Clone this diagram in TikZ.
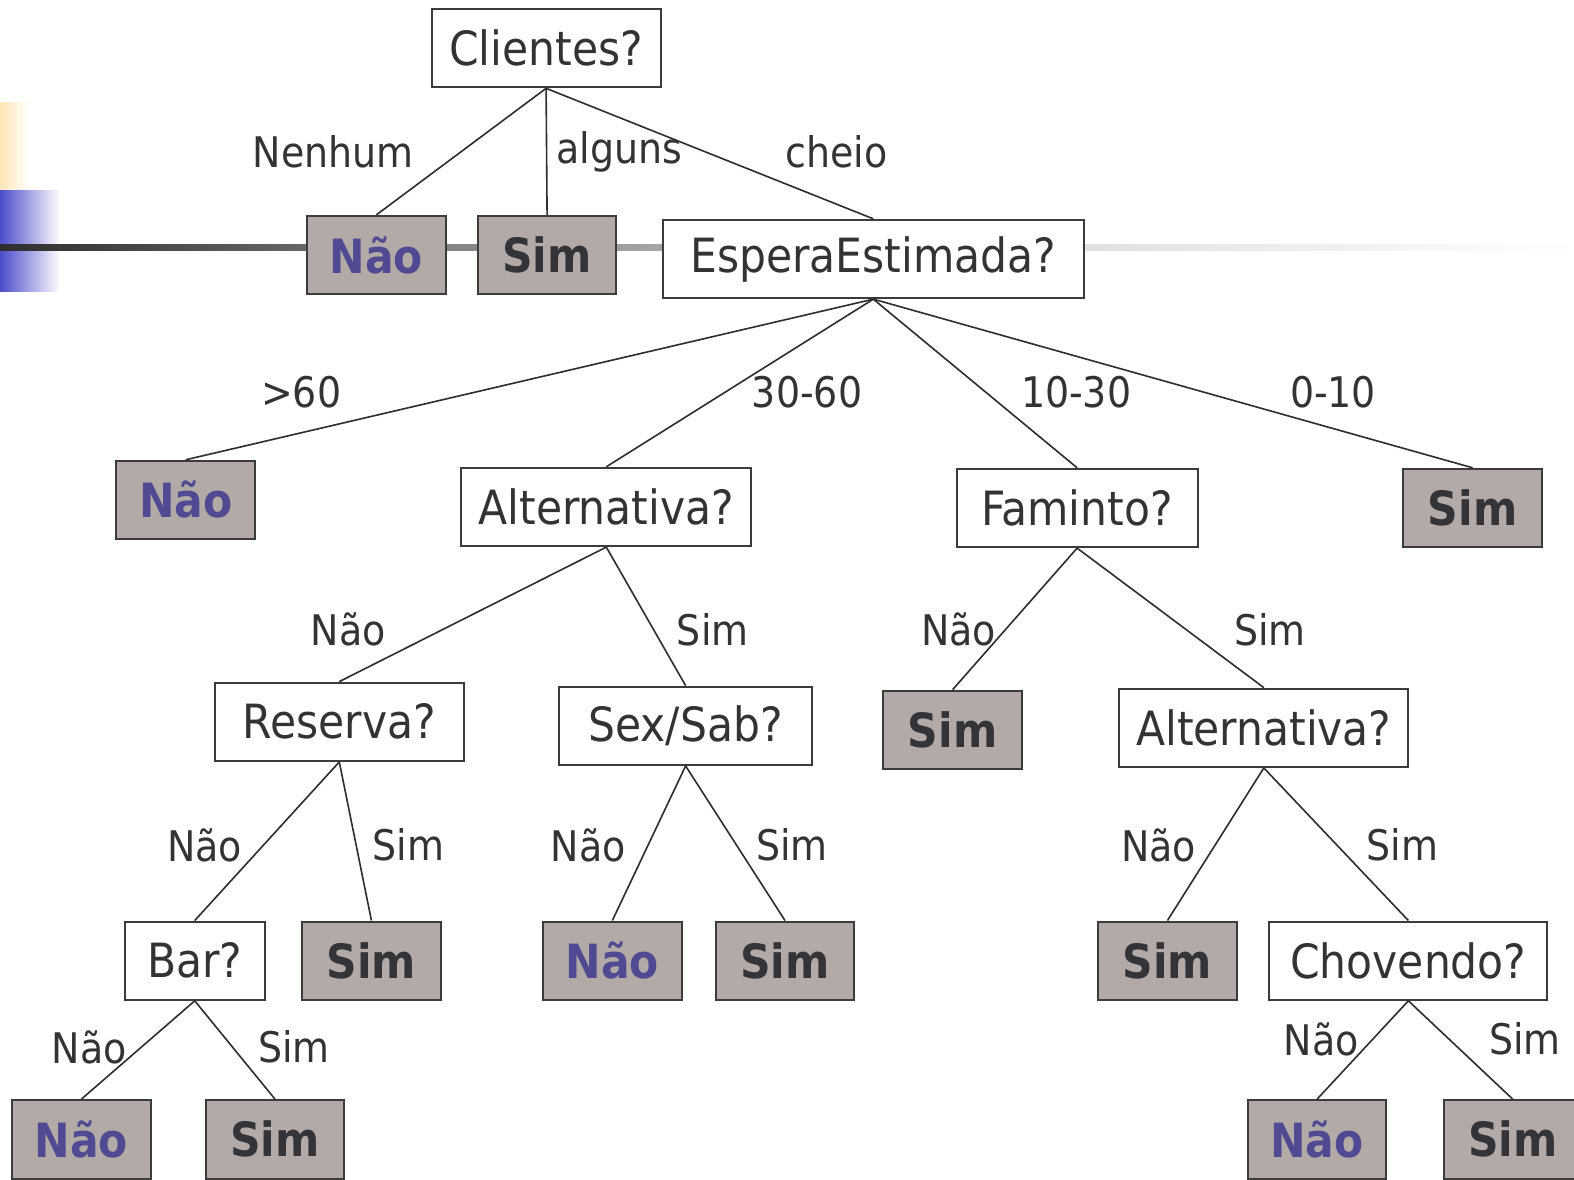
\documentclass[tikz,border=0pt]{standalone}
\usepackage{fontspec}
\setmainfont{DejaVu Sans Condensed}
\begin{document}
\definecolor{ink}{HTML}{333333}
\definecolor{frame}{HTML}{3C3C3C}
\definecolor{leaf}{HTML}{B3A9A6}
\definecolor{nocol}{HTML}{4F4A92}
\definecolor{simcol}{HTML}{333338}
\definecolor{cream}{HTML}{FFE6B8}
\definecolor{slideblue}{HTML}{4C4CCC}
\begin{tikzpicture}[x=0.5pt,y=-0.5pt,
  qbox/.style={draw=frame,line width=1pt,fill=white,text=ink,inner sep=0pt,
    minimum height=39pt,font=\fontsize{23.5}{28}\selectfont},
  leafbox/.style={draw=frame,line width=1pt,fill=leaf,inner sep=0pt,
    minimum width=69pt,minimum height=39pt,font=\fontsize{23.5}{28}\selectfont\bfseries},
  leafno/.style={leafbox,text=nocol},
  leafsim/.style={leafbox,text=simcol},
  edge/.style={draw=ink!90!black,line width=0.8pt},
  lbl/.style={text=ink,inner sep=0pt,font=\fontsize{21}{25}\selectfont}]
\useasboundingbox (0,0) rectangle (1568,1175);
\fill[white] (0,0) rectangle (1568,1175);
% slide decoration: side bars and horizontal rule
\shade[left color=cream,right color=white] (0,102) rectangle (30,190);
\shade[left color=slideblue,right color=white] (0,190) rectangle (60,290);
\shade[left color=black!82,right color=black!60] (0,244) rectangle (305,250);
\shade[left color=black!57,right color=black!35] (305,244) rectangle (660,250);
\shade[left color=black!12,right color=white] (1079,244) rectangle (1568,250);

% nodes
\node[qbox,minimum width=114pt] (cli) at (544,48) {Clientes?};
\node[leafno] (n1) at (375,254) {Não};
\node[leafsim] (s1) at (545,254) {Sim};
\node[qbox,minimum width=209.5pt] (esp) at (870,258) {EsperaEstimada?};
\node[leafno] (n2) at (185,498) {Não};
\node[qbox,minimum width=144.5pt] (alt) at (604,505) {Alternativa?};
\node[qbox,minimum width=120pt] (fam) at (1073,506) {Faminto?};
\node[leafsim] (s2) at (1467,506) {Sim};
\node[qbox,minimum width=124pt] (res) at (338,719) {Reserva?};
\node[qbox,minimum width=126pt] (sex) at (683,723) {Sex/Sab?};
\node[leafsim] (s3) at (949,727) {Sim};
\node[qbox,minimum width=144pt] (alt2) at (1259,725) {Alternativa?};
\node[qbox,minimum width=69.5pt] (bar) at (194,957) {Bar?};
\node[leafsim] (s4) at (370,957) {Sim};
\node[leafno] (n3) at (610,957) {Não};
\node[leafsim] (s5) at (782,957) {Sim};
\node[leafsim] (s6) at (1163,957) {Sim};
\node[qbox,minimum width=138.5pt] (cho) at (1403,957) {Chovendo?};
\node[leafno] (n4) at (81,1135) {Não};
\node[leafsim] (s7) at (274,1135) {Sim};
\node[leafno] (n5) at (1312,1135) {Não};
\node[leafsim] (s8) at (1507,1135) {Sim};

% branches
\draw[edge] (cli.south) -- (n1.north);
\draw[edge] (cli.south) -- (s1.north);
\draw[edge] (cli.south) -- (esp.north);
\draw[edge] (esp.south) -- (n2.north);
\draw[edge] (esp.south) -- (alt.north);
\draw[edge] (esp.south) -- (fam.north);
\draw[edge] (esp.south) -- (s2.north);
\draw[edge] (alt.south) -- (res.north);
\draw[edge] (alt.south) -- (sex.north);
\draw[edge] (fam.south) -- (s3.north);
\draw[edge] (fam.south) -- (alt2.north);
\draw[edge] (res.south) -- (bar.north);
\draw[edge] (res.south) -- (s4.north);
\draw[edge] (sex.south) -- (n3.north);
\draw[edge] (sex.south) -- (s5.north);
\draw[edge] (alt2.south) -- (s6.north);
\draw[edge] (alt2.south) -- (cho.north);
\draw[edge] (bar.south) -- (n4.north);
\draw[edge] (bar.south) -- (s7.north);
\draw[edge] (cho.south) -- (n5.north);
\draw[edge] (cho.south) -- (s8.north);

% branch labels
\node[lbl] (l1) at (332,151) {Nenhum};
\node[lbl] (l2) at (617,151) {alguns};
\node[lbl] (l3) at (833,151) {cheio};
\node[lbl] (l4) at (300,391) {>60};
\node[lbl] (l5) at (804,391) {30-60};
\node[lbl] (l6) at (1072,391) {10-30};
\node[lbl] (l7) at (1328,391) {0-10};
\node[lbl] (l8) at (347,627) {Não};
\node[lbl] (l9) at (710,627) {Sim};
\node[lbl] (l10) at (955,627) {Não};
\node[lbl] (l11) at (1265,627) {Sim};
\node[lbl] (l12) at (204,842) {Não};
\node[lbl] (l13) at (407,842) {Sim};
\node[lbl] (l14) at (586,842) {Não};
\node[lbl] (l15) at (789,842) {Sim};
\node[lbl] (l16) at (1154,842) {Não};
\node[lbl] (l17) at (1397,842) {Sim};
\node[lbl] (l18) at (89,1043) {Não};
\node[lbl] (l19) at (293,1043) {Sim};
\node[lbl] (l20) at (1316,1035) {Não};
\node[lbl] (l21) at (1519,1035) {Sim};
\end{tikzpicture}
\end{document}
